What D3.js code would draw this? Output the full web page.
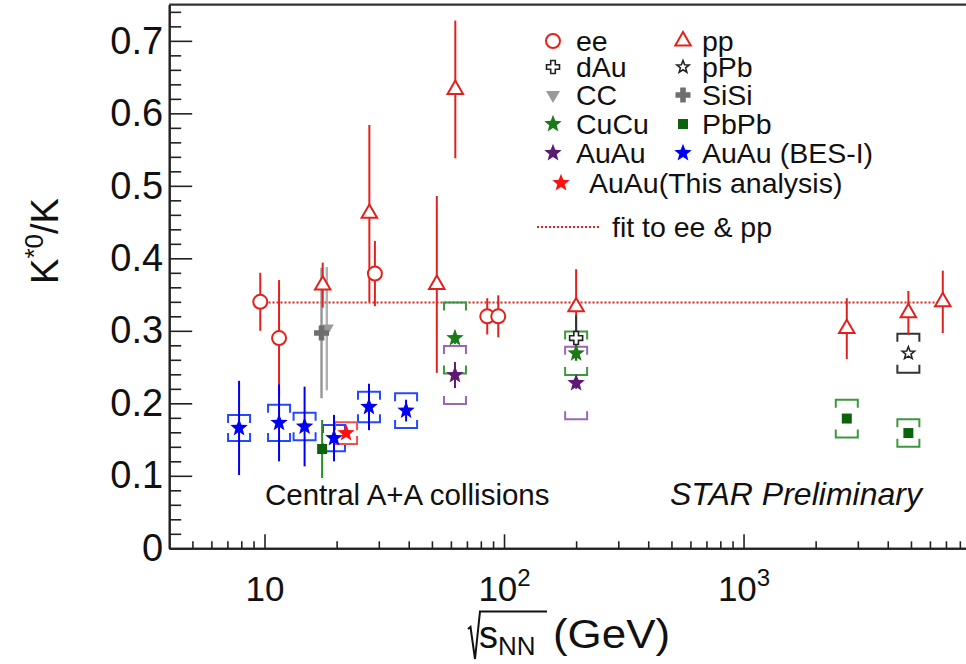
<!DOCTYPE html>
<html><head><meta charset="utf-8">
<script src="https://cdn.jsdelivr.net/npm/d3@7"></script>
<style>body{margin:0;background:#fff}svg{display:block;font-family:"Liberation Sans",Arial,Helvetica,sans-serif}</style>
</head><body><svg id="c" width="966" height="664"></svg>
<script>
// ---------------- data ----------------
const eeX = [9.6, 11.5, 28.9, 85.1, 94.6];
const eeY = [0.340, 0.290, 0.379, 0.320, 0.320];
const eeStat = [0.040, 0.080, 0.045, 0.025, 0.029];

const ppX = [17.5, 27.4, 52.4, 62.6, 200, 2698, 4877, 6790];
const ppY = [0.363, 0.462, 0.364, 0.633, 0.333, 0.303, 0.325, 0.340];
const ppStat = [0.031, 0.122, 0.122, 0.095, 0.052, 0.042, 0.030, 0.043];

const dAuX = [200];
const dAuY = [0.290];
const dAuStat = [0.031];

const pPbX = [4877];
const pPbY = [0.269];
const pPbStat = [0.004];
const pPbSys = [0.027];

const ccX = [18.2];
const ccY = [0.303];
const ccStat = [0.085];

const sisiX = [17.3];
const sisiY = [0.297];
const sisiStat = [0.090];

const cucuX = [62.4, 200];
const cucuY = [0.290, 0.269];
const cucuStat = [0.008, 0.010];
const cucuSys = [0.049, 0.030];

const pbpbX = [17.4, 2698, 4877];
const pbpbY = [0.137, 0.179, 0.159];
const pbpbStat = [0.040, 0.004, 0.004];
const pbpbSys = [0, 0.026, 0.019];

const auauX = [62.4, 200];
const auauY = [0.239, 0.228];
const auauStat = [0.018, 0.008];
const auauSys = [0.040, 0.050];

const besX = [7.83, 11.5, 14.7, 19.5, 27.3, 39.0];
const besY = [0.166, 0.173, 0.168, 0.152, 0.195, 0.190];
const besStat = [0.065, 0.053, 0.055, 0.032, 0.032, 0.015];
const besSys = [0.018, 0.025, 0.019, 0.018, 0.021, 0.024];

const thisX = [21.9];
const thisY = [0.159];
const thisStat = [0.004];
const thisSys = [0.015];

const fitX = [10, 6790];
const fitValue = 0.339;

const yTicks = [0, 0.1, 0.2, 0.3, 0.4, 0.5, 0.6, 0.7];
const xTicks = [10, 100, 1000];
const legendCol1 = ["ee", "dAu", "CC", "CuCu", "AuAu"];
const legendCol2 = ["pp", "pPb", "SiSi", "PbPb", "AuAu (BES-I)"];
const legendExtra = ["AuAu(This analysis)", "fit to ee & pp"];
const annotations = ["Central A+A collisions", "STAR Preliminary"];

// ---------------- drawing ----------------
const svg = d3.select("#c");
const x = d3.scaleLog().domain([4, 9000]).range([169.2, 972.1]);
const y = d3.scaleLinear().domain([0, 0.75]).range([548.3, 4.6]);

const RED = "#e3211c", GREEN = "#1a7a1a", GREENB = "#3f963f", PURPLE = "#5d1a72", PURPLEB = "#9d66b4",
      BLUE = "#0000f5", GRAY = "#9a9a9a", GRAYD = "#6e6e6e", BLACK = "#222";

function starPath(R, r) {
  const p = [];
  for (let i = 0; i < 10; i++) {
    const a = -Math.PI / 2 + i * Math.PI / 5, rad = i % 2 ? r : R;
    p.push([rad * Math.cos(a), rad * Math.sin(a)]);
  }
  return "M" + p.map(d => d[0].toFixed(2) + "," + d[1].toFixed(2)).join("L") + "Z";
}
function crossPath(L, w) {
  const p = [[-w,-L],[w,-L],[w,-w],[L,-w],[L,w],[w,w],[w,L],[-w,L],[-w,w],[-L,w],[-L,-w],[-w,-w]];
  return "M" + p.map(d => d.join(",")).join("L") + "Z";
}
function triPath(s, up) {
  const h = s * 0.866, k = up ? 1 : -1;
  return `M0,${-k*h*2/3}L${s/2},${k*h/3}L${-s/2},${k*h/3}Z`;
}
const SYM = {
  circle: "M-7,0A7,7 0 1,0 7,0A7,7 0 1,0 -7,0Z",
  triUp: triPath(15.5, true),
  triDown: triPath(14, false),
  star: starPath(9.2, 3.9),
  starSmall: starPath(6.5, 2.8),
  openCross: crossPath(6.5, 2.3),
  cross: crossPath(7.5, 2.8),
  square: "M-5,-5H5V5H-5Z"
};
const STYLE = {
  ee:   {sym: "circle", stroke: RED, fill: "#fff", sw: 2},
  pp:   {sym: "triUp", stroke: RED, fill: "#fff", sw: 2},
  dAu:  {sym: "openCross", stroke: BLACK, fill: "#fff", sw: 1.6},
  pPb:  {sym: "starSmall", stroke: BLACK, fill: "#fff", sw: 1.6},
  CC:   {sym: "triDown", stroke: "none", fill: GRAY, sw: 0},
  SiSi: {sym: "cross", stroke: "none", fill: GRAYD, sw: 0},
  CuCu: {sym: "star", stroke: "none", fill: GREEN, sw: 0},
  PbPb: {sym: "square", stroke: "none", fill: "#0b630b", sw: 0},
  AuAu: {sym: "star", stroke: "none", fill: PURPLE, sw: 0},
  BES:  {sym: "star", stroke: "none", fill: BLUE, sw: 0},
  This: {sym: "star", stroke: "none", fill: "#ff1010", sw: 0}
};

function marker(g, key, cx, cy) {
  const s = STYLE[key];
  g.append("path").attr("d", SYM[s.sym]).attr("transform", `translate(${cx},${cy})`)
    .attr("fill", s.fill).attr("stroke", s.stroke).attr("stroke-width", s.sw).attr("stroke-linejoin", "miter");
}

const plot = svg.append("g");

// fit line
plot.append("line").attr("x1", x(fitX[0])).attr("x2", x(fitX[1]))
  .attr("y1", y(fitValue)).attr("y2", y(fitValue))
  .attr("stroke", RED).attr("stroke-width", 2).attr("stroke-dasharray", "2,2");

function brackets(X, Y, S, color, sw) {
  X.forEach((xv, i) => {
    if (!S[i]) return;
    const cx = x(xv), top = y(Y[i] + S[i]), bot = y(Y[i] - S[i]);
    const a = Math.min(8, (bot - top) / 2 - 1), hw = 11;
    plot.append("path")
      .attr("d", `M${cx-hw},${top+a}V${top}H${cx+hw}V${top+a}M${cx-hw},${bot-a}V${bot}H${cx+hw}V${bot-a}`)
      .attr("fill", "none").attr("stroke", color).attr("stroke-width", sw || 2);
  });
}
function statBars(X, Y, E, color, sw, op) {
  X.forEach((xv, i) => {
    if (!E[i]) return;
    plot.append("line").attr("x1", x(xv)).attr("x2", x(xv))
      .attr("y1", y(Y[i] + E[i])).attr("y2", y(Y[i] - E[i]))
      .attr("stroke", color).attr("stroke-width", sw || 2).attr("opacity", op || 1);
  });
}
function markers(X, Y, key) {
  X.forEach((xv, i) => marker(plot, key, x(xv), y(Y[i])));
}

// systematic brackets
brackets(cucuX, cucuY, cucuSys, GREENB);
brackets(auauX, auauY, auauSys, PURPLEB);
brackets(pbpbX, pbpbY, pbpbSys, GREENB);
brackets(pPbX, pPbY, pPbSys, "#333");
brackets(besX, besY, besSys, "#2448ff");
brackets(thisX, thisY, thisSys, "#f05050");

// statistical bars
statBars(ccX, ccY, ccStat, "#a8a8a8", 2.4, 0.9);
statBars(sisiX, sisiY, sisiStat, "#8a8a8a", 2.4, 0.9);
statBars(eeX, eeY, eeStat, RED);
statBars(ppX, ppY, ppStat, RED);
statBars(dAuX, dAuY, dAuStat, "#333");
statBars(pPbX, pPbY, pPbStat, "#333");
statBars(cucuX, cucuY, cucuStat, GREEN);
statBars(auauX, auauY, auauStat, PURPLE);
statBars(pbpbX, pbpbY, pbpbStat, "#2a8a2a");
statBars(besX, besY, besStat, BLUE);
statBars(thisX, thisY, thisStat, "#ff1010");

// markers
markers(ccX, ccY, "CC");
markers(sisiX, sisiY, "SiSi");
markers(eeX, eeY, "ee");
markers(ppX, ppY, "pp");
markers(dAuX, dAuY, "dAu");
markers(pPbX, pPbY, "pPb");
markers(cucuX, cucuY, "CuCu");
markers(auauX, auauY, "AuAu");
markers(pbpbX, pbpbY, "PbPb");
markers(besX, besY, "BES");
markers(thisX, thisY, "This");

// ---------------- axes ----------------
const yMinor = d3.range(0, 0.7501, 0.02).filter(v => Math.abs(v * 10 - Math.round(v * 10)) > 1e-6);
const yAxisMinor = d3.axisLeft(y).tickValues(yMinor).tickSize(-12).tickFormat("").tickSizeOuter(0);
const yAxis = d3.axisLeft(y).tickValues(yTicks).tickSize(-23).tickPadding(6).tickSizeOuter(0)
  .tickFormat(d => d === 0 ? "0" : d3.format(".1f")(d));
svg.append("g").attr("transform", `translate(${x(4)},0)`).call(yAxisMinor);
const gY = svg.append("g").attr("transform", `translate(${x(4)},0)`).call(yAxis);
gY.selectAll("text").attr("font-size", 38).attr("fill", "#111").attr("font-family", "Liberation Sans, Arial, sans-serif");

const xMinor = [];
for (const dec of [1, 10, 100, 1000]) for (let k = 2; k <= 9; k++) { const v = k * dec; if (v > 4 && v < 9000 && ![10,100,1000].includes(v)) xMinor.push(v); }
const xAxisMinor = d3.axisBottom(x).tickValues(xMinor).tickSize(-7).tickFormat("").tickSizeOuter(0);
const xAxis = d3.axisBottom(x).tickValues(xTicks).tickSize(-14).tickPadding(28).tickSizeOuter(0).tickFormat("");
svg.append("g").attr("transform", `translate(0,${y(0)})`).call(xAxisMinor);
const gX = svg.append("g").attr("transform", `translate(0,${y(0)})`).call(xAxis);
gX.selectAll(".tick text").each(function (d) {
  const t = d3.select(this).attr("font-size", 35).attr("fill", "#111").attr("font-family", "Liberation Sans, Arial, sans-serif");
  if (d === 10) { t.text("10"); return; }
  t.append("tspan").text("10");
  t.append("tspan").attr("dy", -15).attr("font-size", 24).text(Math.round(Math.log10(d)));
});
svg.selectAll(".domain").attr("stroke", "#222").attr("stroke-width", 2);
svg.selectAll(".tick line").attr("stroke", "#222").attr("stroke-width", 1.6);

// top frame
svg.append("line").attr("x1", x(4)).attr("x2", 966).attr("y1", y(0.75)).attr("y2", y(0.75))
  .attr("stroke", "#333").attr("stroke-width", 2.4);

// axis titles
const yt = svg.append("text").attr("transform", "translate(58,241) rotate(-90)")
  .attr("text-anchor", "middle").attr("font-size", 38).attr("fill", "#111");
yt.append("tspan").text("K");
yt.append("tspan").attr("dy", -15).attr("font-size", 26).text("*0");
yt.append("tspan").attr("dy", 15).text("/K");

svg.append("path").attr("d", "M468,629L470.5,627L475,659L480,611.5H547")
  .attr("fill", "none").attr("stroke", "#111").attr("stroke-width", 2);
svg.append("text").attr("x", 479).attr("y", 648).attr("font-size", 38).attr("fill", "#111").text("s");
svg.append("text").attr("x", 498).attr("y", 655).attr("font-size", 26).attr("fill", "#111").text("NN");
svg.append("text").attr("x", 553).attr("y", 648).attr("font-size", 40).attr("fill", "#111")
  .attr("textLength", 117).attr("lengthAdjust", "spacingAndGlyphs").text("(GeV)");

// annotations
svg.append("text").attr("x", 265).attr("y", 505).attr("font-size", 29.5).attr("fill", "#111").text(annotations[0]);
svg.append("text").attr("x", 670).attr("y", 505).attr("font-size", 32).attr("font-style", "italic").attr("fill", "#111").text(annotations[1]);

// ---------------- legend ----------------
const leg = svg.append("g");
const rowY = [41, 67, 95, 124, 153];
const k1 = ["ee", "dAu", "CC", "CuCu", "AuAu"], k2 = ["pp", "pPb", "SiSi", "PbPb", "BES"];
legendCol1.forEach((lab, i) => {
  marker(leg, k1[i], 553, rowY[i]);
  leg.append("text").attr("x", 576).attr("y", rowY[i]).attr("dy", "0.36em").attr("font-size", 28.5).attr("fill", "#111").text(lab);
});
legendCol2.forEach((lab, i) => {
  marker(leg, k2[i], 683, rowY[i]);
  leg.append("text").attr("x", 702).attr("y", rowY[i]).attr("dy", "0.36em").attr("font-size", 28.5).attr("fill", "#111").text(lab);
});
marker(leg, "This", 561, 183);
leg.append("text").attr("x", 589).attr("y", 183).attr("dy", "0.36em").attr("font-size", 28.5).attr("fill", "#111").text(legendExtra[0]);
leg.append("line").attr("x1", 537).attr("x2", 600).attr("y1", 227).attr("y2", 227)
  .attr("stroke", RED).attr("stroke-width", 2).attr("stroke-dasharray", "2,2");
leg.append("text").attr("x", 612).attr("y", 227).attr("dy", "0.36em").attr("font-size", 28.5).attr("fill", "#111").text(legendExtra[1]);
</script></body></html>
